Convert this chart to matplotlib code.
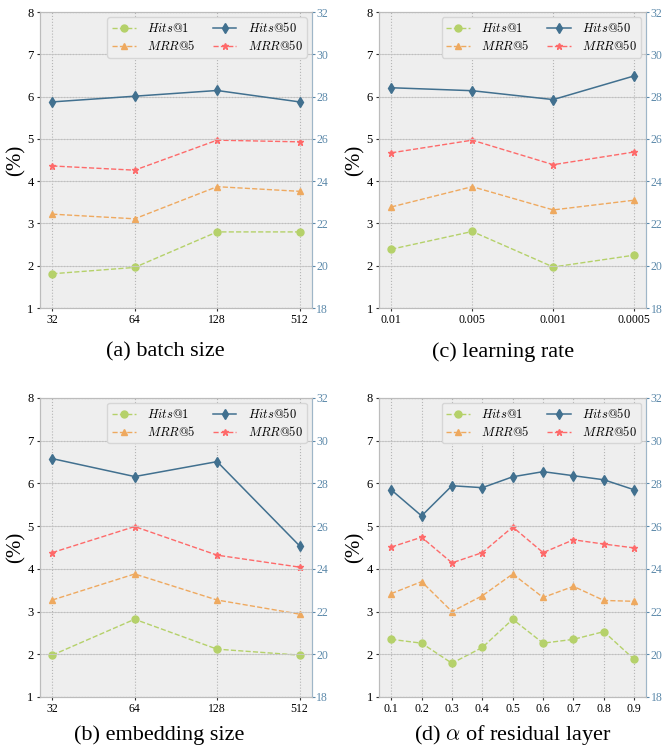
import matplotlib
matplotlib.use('Agg')
import matplotlib.pyplot as plt

# ------------------------------------------
# Data
# ------------------------------------------
batch_sizes = ['32', '64', '128', '512']
a_hits1 = [1.81, 1.96, 2.80, 2.80]
a_mrr5 = [3.22, 3.11, 3.87, 3.76]
a_mrr50 = [4.36, 4.26, 4.97, 4.93]
a_hits50 = [27.75, 28.02, 28.29, 27.75]

learning_rates = ['0.01', '0.005', '0.001', '0.0005']
c_hits1 = [2.39, 2.81, 1.97, 2.25]
c_mrr5 = [3.39, 3.87, 3.32, 3.55]
c_mrr50 = [4.67, 4.97, 4.39, 4.69]
c_hits50 = [28.42, 28.28, 27.86, 28.98]

emb_sizes = ['32', '64', '128', '512']
b_hits1 = [1.98, 2.82, 2.12, 1.98]
b_mrr5 = [3.27, 3.88, 3.27, 2.94]
b_mrr50 = [4.38, 4.99, 4.32, 4.04]
b_hits50 = [29.16, 28.32, 29.02, 25.08]

alphas = ['0.1', '0.2', '0.3', '0.4', '0.5', '0.6', '0.7', '0.8', '0.9']
d_hits1 = [2.35, 2.26, 1.79, 2.16, 2.82, 2.26, 2.35, 2.53, 1.88]
d_mrr5 = [3.42, 3.70, 3.00, 3.37, 3.88, 3.33, 3.59, 3.26, 3.24]
d_mrr50 = [4.51, 4.74, 4.14, 4.38, 4.98, 4.38, 4.68, 4.58, 4.49]
d_hits50 = [27.70, 26.48, 27.89, 27.80, 28.31, 28.55, 28.36, 28.17, 27.70]

captions = ['(a) batch size', '(c) learning rate',
            '(b) embedding size', r'(d) $\alpha$ of residual layer']

C_HITS1 = '#b5d16a'
C_MRR5 = '#eea95f'
C_HITS50 = '#41708f'
C_MRR50 = '#fe6a6a'
C_RIGHT = '#5c89aa'

plt.rcParams['font.family'] = ['Liberation Serif', 'DejaVu Serif']
plt.rcParams['mathtext.fontset'] = 'cm'


def draw_panel(rect, labels, hits1, mrr5, mrr50, hits50, caption, cap_xy):
    ax = fig.add_axes(rect)
    ax.set_facecolor('#eeeeee')
    xs = list(range(len(labels)))

    l1, = ax.plot(xs, hits1, '--o', color=C_HITS1, lw=1, ms=5, label=r'$Hits@1$')
    l2, = ax.plot(xs, mrr5, '--^', color=C_MRR5, lw=1, ms=5, label=r'$MRR@5$')
    l4, = ax.plot(xs, mrr50, '--*', color=C_MRR50, lw=1, ms=5, label=r'$MRR@50$')
    ax.set_ylim(1, 8)
    ax.set_yticks(range(1, 9))
    ax.set_xticks(xs)
    ax.set_xticklabels(labels)
    ax.grid(True, axis='y', color='#8f8f8f', linestyle=':', linewidth=0.8)
    ax.grid(True, axis='x', color='#b5b5b5', linestyle=':', linewidth=0.8)
    ax.tick_params(axis='x', labelsize=8.5, length=2.5, pad=2, color='#333333')
    ax.tick_params(axis='y', labelsize=9, length=2.5, pad=2, color='#333333')
    for s in ax.spines.values():
        s.set_color('#bcbcbc')
    ax.set_ylabel('(%)', fontsize=15, labelpad=1)

    ax2 = ax.twinx()
    l3, = ax2.plot(xs, hits50, '-d', color=C_HITS50, lw=1.1, ms=5, label=r'$Hits@50$')
    ax2.set_ylim(18, 32)
    ax2.set_yticks(range(18, 33, 2))
    ax2.tick_params(labelsize=8.5, length=2, pad=1, colors=C_RIGHT)
    ax2.grid(True, axis='y', color='#c8c8c8', linestyle='-', linewidth=0.6)
    ax2.set_axisbelow(True)
    for s in ax2.spines.values():
        s.set_color('#bcbcbc')
    ax2.spines['right'].set_color('#9fb6c8')

    ax2.legend([l1, l2, l3, l4], [l1.get_label(), l2.get_label(), l3.get_label(), l4.get_label()],
               loc='upper right', ncol=2, fontsize=9, frameon=True,
               facecolor='#efefef', edgecolor='#d6d6d6', framealpha=1,
               handlelength=1.9, handletextpad=0.9, columnspacing=1.4,
               borderpad=0.35, labelspacing=0.3, borderaxespad=0.4)

    fig.text(cap_xy[0], cap_xy[1], caption, ha='center', va='center', fontsize=16)


fig = plt.figure(figsize=(6.65, 7.54), dpi=100)

draw_panel([0.060, 0.5915, 0.409, 0.3925], batch_sizes, a_hits1, a_mrr5, a_mrr50, a_hits50,
           captions[0], (165 / 665, 1 - 352 / 754))
draw_panel([0.570, 0.5915, 0.402, 0.3925], learning_rates, c_hits1, c_mrr5, c_mrr50, c_hits50,
           captions[1], (503 / 665, 1 - 352 / 754))
draw_panel([0.060, 0.0756, 0.409, 0.3966], emb_sizes, b_hits1, b_mrr5, b_mrr50, b_hits50,
           captions[2], (159 / 665, 1 - 735 / 754))
draw_panel([0.570, 0.0756, 0.402, 0.3966], alphas, d_hits1, d_mrr5, d_mrr50, d_hits50,
           captions[3], (513 / 665, 1 - 735 / 754))

fig.savefig('out.png', dpi=100)
